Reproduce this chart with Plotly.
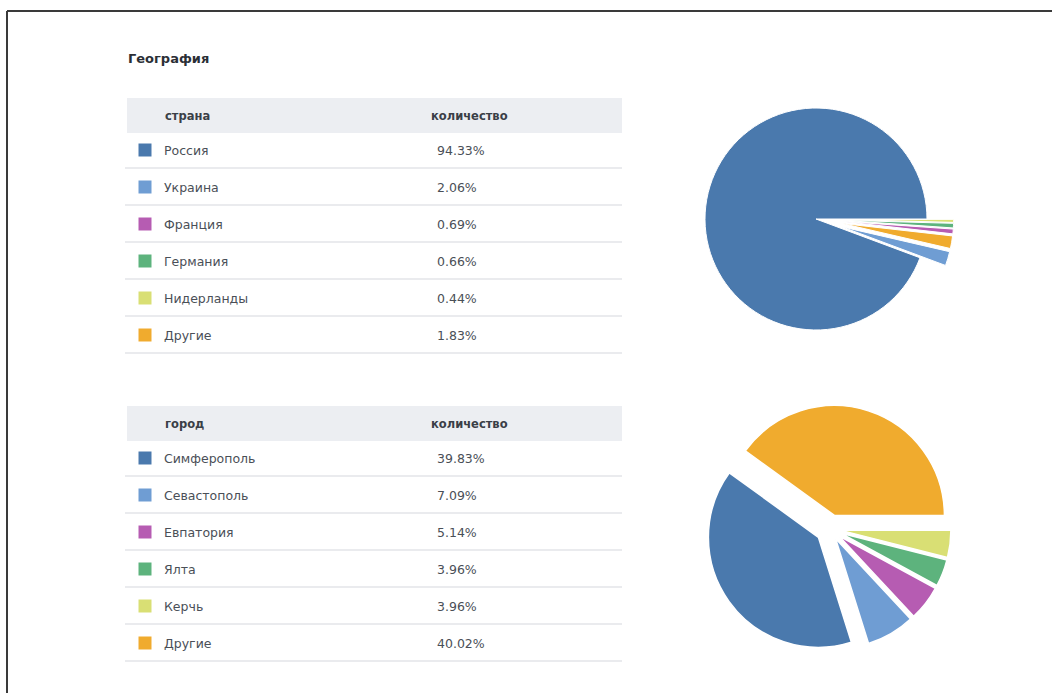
import plotly.graph_objects as go

# ---------------- data ----------------
title_text = "География"

country_header = ["страна", "количество"]
countries = ["Россия", "Украина", "Франция", "Германия", "Нидерланды", "Другие"]
country_share = [94.33, 2.06, 0.69, 0.66, 0.44, 1.83]
country_labels = ["94.33%", "2.06%", "0.69%", "0.66%", "0.44%", "1.83%"]

city_header = ["город", "количество"]
cities = ["Симферополь", "Севастополь", "Евпатория", "Ялта", "Керчь", "Другие"]
city_share = [39.83, 7.09, 5.14, 3.96, 3.96, 40.02]
city_labels = ["39.83%", "7.09%", "5.14%", "3.96%", "3.96%", "40.02%"]

# ---------------- styles ----------------
colors = ["#4a79ad", "#6f9dd3", "#b65cb2", "#5db37d", "#d9df74", "#f0ab2e"]
pie1_order = [4, 3, 2, 5, 1, 0]          # drawing order, clockwise from 3 o'clock
pie1_pull = [0.0, 0.24, 0.24, 0.24, 0.24, 0.24]
pie2_order = [4, 3, 2, 1, 0, 5]
pie2_pull = [0.13, 0.1, 0.1, 0.1, 0.1, 0.13]

W, H = 1052, 693
FONT = "'DejaVu Sans', Verdana, sans-serif"

fig = go.Figure()


def add_table(fig, top, header, names, labels):
    # header band
    fig.add_shape(type="rect", xref="x", yref="y", x0=127, x1=622, y0=top, y1=top + 35,
                  fillcolor="#eceef2", line_width=0, layer="below")
    fig.add_annotation(x=163, y=top + 17.5, text="<b>%s</b>" % header[0], xref="x", yref="y",
                       xanchor="left", yanchor="middle", showarrow=False,
                       font=dict(family=FONT, size=11.5, color="#3a3f47"))
    fig.add_annotation(x=429, y=top + 17.5, text="<b>%s</b>" % header[1], xref="x", yref="y",
                       xanchor="left", yanchor="middle", showarrow=False,
                       font=dict(family=FONT, size=11.5, color="#3a3f47"))
    ys = [top + 52 + 37 * i for i in range(len(names))]
    for i, (n, lab) in enumerate(zip(names, labels)):
        fig.add_annotation(x=162, y=ys[i], text=n, xref="x", yref="y",
                           xanchor="left", yanchor="middle", showarrow=False,
                           font=dict(family=FONT, size=12.5, color="#4a4f57"))
        fig.add_annotation(x=435, y=ys[i], text=lab, xref="x", yref="y",
                           xanchor="left", yanchor="middle", showarrow=False,
                           font=dict(family=FONT, size=12.5, color="#4a4f57"))
        fig.add_shape(type="line", xref="x", yref="y", x0=125, x1=622,
                      y0=ys[i] + 18, y1=ys[i] + 18,
                      line=dict(color="#e3e5e9", width=1.5), layer="below")
    fig.add_trace(go.Scatter(
        x=[145] * len(names), y=ys, mode="markers",
        marker=dict(symbol="square", size=13, color=colors[:len(names)], line_width=0),
        hoverinfo="skip", showlegend=False, xaxis="x", yaxis="y"))


add_table(fig, 98, country_header, countries, country_labels)
add_table(fig, 406, city_header, cities, city_labels)

fig.add_annotation(x=126, y=58, text="<b>%s</b>" % title_text, xref="x", yref="y",
                   xanchor="left", yanchor="middle", showarrow=False,
                   font=dict(family=FONT, size=13, color="#2b2f36"))


def pie_domain(cx, cy, r, maxpull):
    half = r * (1 + maxpull)
    return dict(x=[(cx - half) / W, (cx + half) / W],
                y=[1 - (cy + half) / H, 1 - (cy - half) / H])


fig.add_trace(go.Pie(
    labels=[countries[i] for i in pie1_order],
    values=[country_share[i] for i in pie1_order],
    marker=dict(colors=[colors[i] for i in pie1_order], line=dict(color="white", width=1)),
    pull=[pie1_pull[i] for i in pie1_order],
    sort=False, direction="clockwise", rotation=90,
    textinfo="none", showlegend=False,
    domain=pie_domain(816, 219, 111, max(pie1_pull))))

fig.add_trace(go.Pie(
    labels=[cities[i] for i in pie2_order],
    values=[city_share[i] for i in pie2_order],
    marker=dict(colors=[colors[i] for i in pie2_order], line=dict(color="white", width=1.5)),
    pull=[pie2_pull[i] for i in pie2_order],
    sort=False, direction="clockwise", rotation=90,
    textinfo="none", showlegend=False,
    domain=pie_domain(830, 529, 110, max(pie2_pull))))

# frame (left and top edges)
fig.add_shape(type="line", xref="x", yref="y", x0=7, x1=7, y0=11, y1=H + 5,
              line=dict(color="#3a3a3a", width=2))
fig.add_shape(type="line", xref="x", yref="y", x0=7, x1=W + 5, y0=11, y1=11,
              line=dict(color="#3a3a3a", width=2))

fig.update_layout(
    width=W, height=H, margin=dict(l=0, r=0, t=0, b=0),
    paper_bgcolor="white", plot_bgcolor="white",
    xaxis=dict(range=[0, W], visible=False, fixedrange=True, domain=[0, 1]),
    yaxis=dict(range=[H, 0], visible=False, fixedrange=True, domain=[0, 1]),
    showlegend=False,
)

fig.write_html("out.html", config={"displayModeBar": False},
               post_script="document.body.style.margin='0';document.body.style.overflow='hidden';")
